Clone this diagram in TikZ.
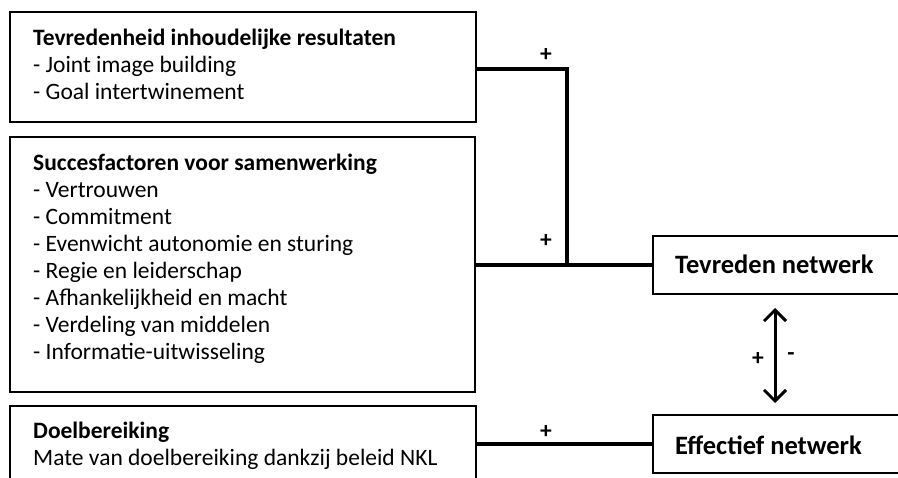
\documentclass[tikz,border=0pt]{standalone}
\usepackage{fontspec}
\setmainfont{Carlito}
\usetikzlibrary{fit,arrows.meta}
\begin{document}
\begin{tikzpicture}[x=1pt,y=-1pt,
  box/.style={draw,line width=1.5pt,inner sep=0pt},
  txt/.style={anchor=base west,inner sep=0pt,font=\fontsize{23.5}{27}\selectfont},
  ttl/.style={txt,font=\fontsize{23.5}{27}\selectfont\bfseries},
  big/.style={anchor=base west,inner sep=0pt,font=\fontsize{26.5}{30}\selectfont\bfseries},
  sgn/.style={inner sep=0pt,font=\fontsize{23.5}{27}\selectfont\bfseries},
  conn/.style={line width=3.5pt},
]
\useasboundingbox (0,0) rectangle (898,478);
\clip (0,0) rectangle (898,478);
\fill[white] (0,0) rectangle (898,478);
% boxes
\node[box,fit={(10,12) (476,122)}] (b1) {};
\node[box,fit={(10,137) (475,392)}] (b2) {};
\node[box,fit={(10,406) (476,520)}] (b3) {};
\node[box,fit={(653,236) (920,294)}] (tev) {};
\node[box,fit={(653,415) (920,473)}] (eff) {};
% texts box 1
\node[ttl] (t1) at (33,46) {Tevredenheid inhoudelijke resultaten};
\node[txt] (t1a) at (33,73) {- Joint image building};
\node[txt] (t1b) at (33,100) {- Goal intertwinement};
% texts box 2
\node[ttl] (t2) at (33,171) {Succesfactoren voor samenwerking};
\node[txt] (t2a) at (33,198) {- Vertrouwen};
\node[txt] (t2b) at (33,225) {- Commitment};
\node[txt] (t2c) at (33,252) {- Evenwicht autonomie en sturing};
\node[txt] (t2d) at (33,279) {- Regie en leiderschap};
\node[txt] (t2e) at (33,306) {- Afhankelijkheid en macht};
\node[txt] (t2f) at (33,333) {- Verdeling van middelen};
\node[txt] (t2g) at (33,360) {- Informatie-uitwisseling};
% texts box 3
\node[ttl] (t3) at (33,439) {Doelbereiking};
\node[txt] (t3a) at (33,466) {Mate van doelbereiking dankzij beleid NKL};
% outcome labels
\node[big] (tevl) at (675,274) {Tevreden netwerk};
\node[big] (effl) at (675,455) {Effectief netwerk};
% connectors
\coordinate (j1) at (567,69);
\coordinate (j2) at (567,265);
\draw[conn] (b1.east |- j1) -- (j1) -- (j2);
\draw[conn] (b2.east |- j2) -- (tev.west |- j2);
\draw[conn] (b3.east |- eff.west) -- (eff.west);
\coordinate (a1) at (775,308);
\coordinate (a2) at (775,403);
\draw[line width=3pt,{Straight Barb[length=11pt,width=22pt,line width=3pt]}-{Straight Barb[length=11pt,width=22pt,line width=3pt]}] (a1) -- (a2);
% signs
\node[sgn] (p1) at (546,55) {+};
\node[sgn] (p2) at (546,241) {+};
\node[sgn] (p3) at (546,432) {+};
\node[sgn] (p4) at (758,359) {+};
\node[sgn] (m4) at (791,357) {-};
\end{tikzpicture}
\end{document}
